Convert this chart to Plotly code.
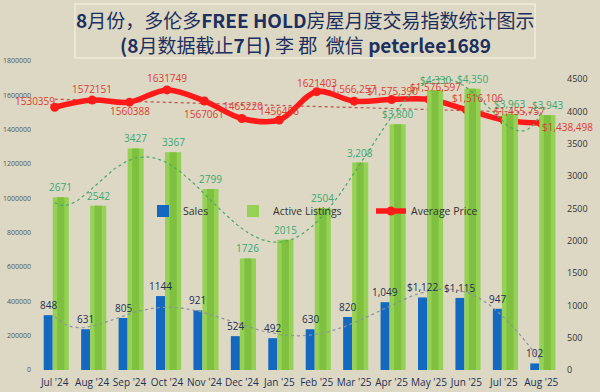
import numpy as np
import plotly.graph_objects as go

months = ["Jul '24", "Aug '24", "Sep '24", "Oct '24", "Nov '24", "Dec '24", "Jan '25",
          "Feb '25", "Mar '25", "Apr '25", "May '25", "Jun '25", "Jul '25", "Aug '25"]
sales = [848, 631, 805, 1144, 921, 524, 492, 630, 820, 1049, 1122, 1115, 947, 102]
listings = [2671, 2542, 3427, 3367, 2799, 1726, 2015, 2504, 3208, 3800, 4330, 4350, 3963, 3943]
avg_price = [1530359, 1572151, 1560388, 1631749, 1567061, 1465220, 1456456, 1621403,
             1566257, 1575390, 1576597, 1516106, 1455757, 1438498]

sales_labels = ["848", "631", "805", "1144", "921", "524", "492", "630", "820", "1,049",
                "$1,122", "$1,115", "947", "102"]
listing_labels = ["2671", "2542", "3427", "3367", "2799", "1726", "2015", "2504", "3,208",
                  "$3,800", "$4,330", "$4,350", "$3,963", "$3,943"]
price_labels = ["1530359", "1572151", "1560388", "1631749", "1567061", "1465220", "1456456",
                "1621403", "1,566,257", "$1,575,390", "$1,576,597", "$1,516,106",
                "$1,455,757", "$1,438,498"]

# label pixel shifts (style only)
price_shift = [(-20, 6), (0, 11), (0, -9), (0, 12), (0, -13), (1, 12), (0, 9), (0, 9),
               (-1, 12), (1, 9), (6, 12), (11, 12), (16, 9), (26, -4)]

BG = "#dcd8c3"
BLUE = "#1368c0"
GREEN_L = "#95d154"
GREEN_D = "#80c040"
RED = "#ff1a1a"
LABEL_GREEN = "#3aa874"
NAVY = "#1f2f55"

xi = np.arange(len(months))
x_fine = np.linspace(0, len(months) - 1, 200)

# Trendlines (fits of the data, like the spreadsheet trendlines)
sales_fit = np.polyval(np.polyfit(xi, sales, 6), x_fine)
list_fit = np.polyval(np.polyfit(xi, listings, 6), x_fine)
price_fit = np.polyval(np.polyfit(xi, avg_price, 1), x_fine)

fig = go.Figure()

fig.add_trace(go.Bar(x=xi, y=sales, yaxis="y2", name="Sales", marker_color=BLUE,
                     offset=-0.294, width=0.24, marker_line_width=0, legend="legend"))
fig.add_trace(go.Bar(x=xi, y=listings, yaxis="y2", name="Active Listings", marker_color=GREEN_L,
                     offset=-0.053, width=0.43, marker_line_width=0, legend="legend2"))
fig.add_trace(go.Bar(x=xi, y=listings, yaxis="y2", showlegend=False, marker_color=GREEN_D,
                     offset=0.067, width=0.19, marker_line_width=0, hoverinfo="skip"))

fig.add_trace(go.Scatter(x=x_fine, y=sales_fit, yaxis="y2", mode="lines", showlegend=False,
                         line=dict(color="#8a93a3", width=1.2, dash="dot"), hoverinfo="skip"))
fig.add_trace(go.Scatter(x=x_fine, y=list_fit, yaxis="y2", mode="lines", showlegend=False,
                         line=dict(color="#4aa86a", width=1.2, dash="dot"), hoverinfo="skip"))
fig.add_trace(go.Scatter(x=x_fine, y=price_fit, yaxis="y", mode="lines", showlegend=False,
                         line=dict(color="#c0504d", width=1.2, dash="dot"), hoverinfo="skip"))

fig.add_trace(go.Scatter(x=xi, y=avg_price, yaxis="y", mode="lines+markers", name="Average Price",
                         line=dict(color=RED, width=5.5, shape="spline", smoothing=1.0),
                         marker=dict(color=RED, size=9), legend="legend3"))

annotations = []
for i in range(len(months)):
    annotations.append(dict(x=i - 0.174, y=sales[i], xref="x", yref="y2", text=sales_labels[i],
                            showarrow=False, yanchor="bottom", yshift=1,
                            font=dict(family="Open Sans", size=10, color=NAVY)))
    annotations.append(dict(x=i + 0.162, y=listings[i], xref="x", yref="y2", text=listing_labels[i],
                            showarrow=False, yanchor="bottom", yshift=1,
                            font=dict(family="Open Sans", size=10, color=LABEL_GREEN)))
    dx, dy = price_shift[i]
    annotations.append(dict(x=i, y=avg_price[i], xref="x", yref="y", text=price_labels[i],
                            showarrow=False, xshift=dx, yshift=dy,
                            font=dict(family="Open Sans", size=10, color="#e03a32")))

title_font = dict(family="Noto Sans CJK SC", size=19, color="#1c2f5e")
annotations.append(dict(x=(305 - 36) / 524, y=(370 - 19) / 309, xref="paper", yref="paper",
                        text="<b>8</b>月份，多伦多<b>FREE HOLD</b>房屋月度交易指数统计图示",
                        showarrow=False, font=title_font, xanchor="center", yanchor="middle"))
annotations.append(dict(x=(305 - 36) / 524, y=(370 - 45) / 309, xref="paper", yref="paper",
                        text="<b>(8</b>月数据截止<b>7</b>日<b>)</b> 李 郡  微信 <b>peterlee1689</b>",
                        showarrow=False, font=title_font, xanchor="center", yanchor="middle"))

legend_common = dict(orientation="h", yanchor="middle", y=(370 - 211) / 309, xanchor="left",
                     bgcolor="rgba(0,0,0,0)", font=dict(family="Open Sans", size=10.5, color="#333333"))

fig.update_layout(
    template="none",
    width=600, height=392,
    margin=dict(l=36, r=40, t=61, b=22, autoexpand=False),
    paper_bgcolor=BG, plot_bgcolor=BG,
    barmode="overlay",
    xaxis=dict(range=[-0.5, len(months) - 0.5], tickvals=list(xi), ticktext=months,
               showgrid=False, zeroline=False, showline=False, ticks="", automargin=False,
               tickfont=dict(family="Open Sans", size=10, color=NAVY), ticklabelstandoff=5),
    yaxis=dict(range=[0, 1800000], dtick=200000, tickformat="d", showgrid=False, zeroline=False,
               ticks="", automargin=False, tickfont=dict(family="Open Sans", size=7, color="#555555"),
               ticklabelstandoff=4),
    yaxis2=dict(range=[0, 4780], dtick=500, tickformat="d", overlaying="y", side="right",
                showgrid=False, zeroline=False, ticks="", automargin=False,
                tickfont=dict(family="Open Sans", size=9, color="#333333"), ticklabelstandoff=6),
    legend=dict(x=(143 - 36) / 524, **legend_common),
    legend2=dict(x=(233 - 36) / 524, **legend_common),
    legend3=dict(x=(371 - 36) / 524, **legend_common),
    annotations=annotations,
    shapes=[dict(type="rect", xref="paper", yref="paper",
                 x0=(75 - 36) / 524, x1=(535 - 36) / 524,
                 y0=(370 - 58) / 309, y1=(370 - 4) / 309,
                 line=dict(color="#efebdc", width=1.5), fillcolor="rgba(0,0,0,0)")],
    showlegend=True,
)

fig.write_html("out.html", config={"displayModeBar": False},
               post_script="document.body.style.margin='0';document.body.style.background='%s';" % BG)
